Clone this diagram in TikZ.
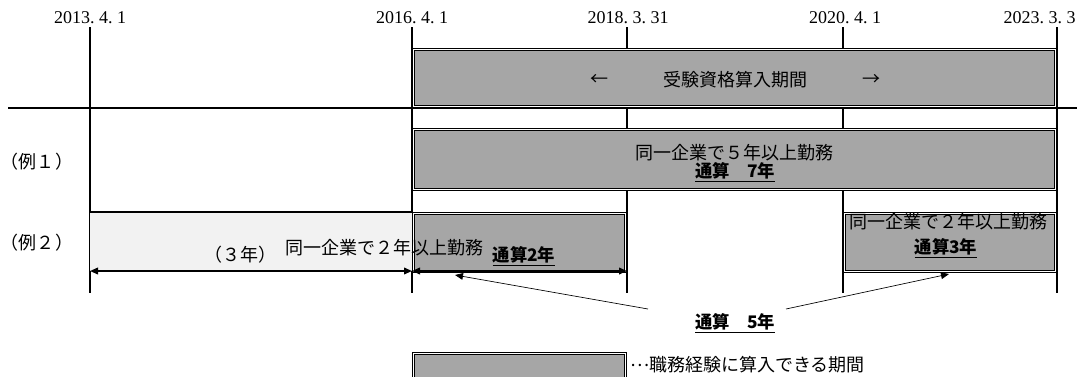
\documentclass[tikz,border=0pt]{standalone}
\usepackage{fontspec}
\setmainfont{Liberation Serif}
\newfontfamily\jp{Noto Sans CJK JP}
\usetikzlibrary{arrows.meta}
\definecolor{boxgray}{HTML}{A6A6A6}
\definecolor{palegray}{HTML}{F2F2F2}

\begin{document}
\begin{tikzpicture}[x=0.75pt, y=-0.75pt,
    span_box/.style={fill=boxgray, draw=black, line width=0.9pt, double=white, double distance=1pt},
    grid_line/.style={line width=1.2pt},
    date_label/.style={font=\fontsize{13.5}{16}\selectfont, inner sep=0},
    jp_label/.style={font=\jp\fontsize{13.5}{16}\selectfont, inner sep=0},
    sum_label/.style={font=\jp\bfseries\fontsize{13}{16}\selectfont, inner sep=0},
    span_arrow/.style={line width=1.2pt, {Triangle[length=6pt,width=5pt]}-{Triangle[length=6pt,width=5pt]}},
    pointer/.style={line width=0.5pt, -{Triangle[length=6pt,width=5pt]}}]
    \useasboundingbox (0,0) rectangle (1077,376);
    \clip (0,0) rectangle (1077,376);
    \foreach \x in {90,412,627,843,1057}
        \draw[grid_line] (\x,27) -- (\x,293);
    \draw[grid_line] (8,108) -- (1077,108);
    \node[date_label] (d2013) at (90,18) {2013.\ 4.\ 1};
    \node[date_label] (d2016) at (412,18) {2016.\ 4.\ 1};
    \node[date_label] (d2018) at (628,18) {2018.\ 3.\ 31};
    \node[date_label] (d2020) at (845,18) {2020.\ 4.\ 1};
    \node[date_label, anchor=east] (d2023) at (1076,18) {2023.\ 3.\ 3};
    \fill[palegray] (90,212) rectangle (412,271);
    \draw[grid_line] (90,212) -- (412,212);
    \draw[span_box] (413.5,49.5) rectangle (1055.5,106.5);
    \draw[span_box] (413.5,129.5) rectangle (1055.5,189.5);
    \draw[span_box] (413.5,213.5) rectangle (625.5,271.5);
    \draw[span_box] (844.5,213.5) rectangle (1055.5,271.5);
    \draw[span_box] (413.5,353.5) rectangle (625.5,385);
    \node[jp_label] (larrow) at (599,80) {←};
    \node[jp_label] (period_txt) at (735,80) {受験資格算入期間};
    \node[jp_label] (rarrow) at (871,80) {→};
    \node[jp_label] (ex1) at (37,162) {（例１）};
    \node[jp_label] (ex2) at (37,243) {（例２）};
    \node[jp_label] (ex1_txt) at (734,153) {同一企業で５年以上勤務};
    \node[sum_label] (ex1_sum) at (735,172) {\underline{通算　7年}};
    \node[jp_label] (three_yrs) at (240,255) {（３年）};
    \node[jp_label] (ex2_txt_a) at (384,248) {同一企業で２年以上勤務};
    \node[sum_label] (ex2_sum_a) at (524,256) {\underline{通算2年}};
    \node[jp_label] (ex2_txt_b) at (948,222) {同一企業で２年以上勤務};
    \node[sum_label] (ex2_sum_b) at (946,248) {\underline{通算3年}};
    \node[sum_label] (total5) at (735,323) {\underline{通算　5年}};
    \node[jp_label, anchor=west] (legend_txt) at (630,365) {\raisebox{0.3em}{…}職務経験に算入できる期間};
    \coordinate (a0) at (90,271);
    \coordinate (a1) at (412,271);
    \coordinate (a2) at (627,271);
    \draw[span_arrow] (a0) -- (a1);
    \draw[span_arrow] (a1) -- (a2);
    \coordinate (p_left) at (648,309);
    \coordinate (p_right) at (786,309);
    \coordinate (tip_a) at (455,275);
    \coordinate (tip_b) at (949,274);
    \draw[pointer] (p_left) -- (tip_a);
    \draw[pointer] (p_right) -- (tip_b);
\end{tikzpicture}
\end{document}
